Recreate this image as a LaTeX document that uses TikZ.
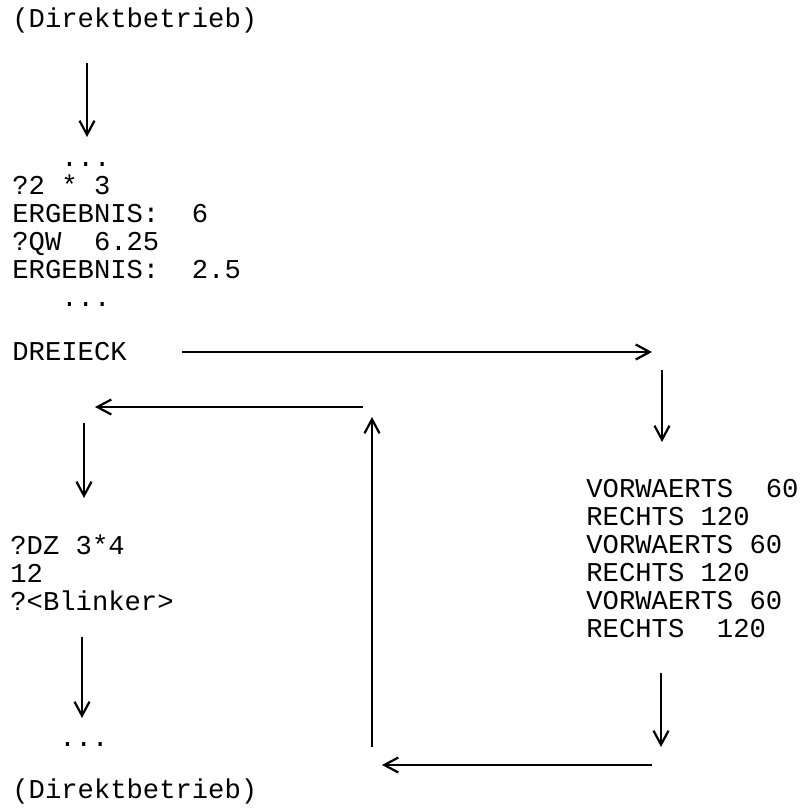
\documentclass[tikz,border=0pt]{standalone}
\usepackage{fontspec}
\setmonofont{Liberation Mono}
\usetikzlibrary{arrows.meta}

\begin{document}
\begin{tikzpicture}[x=0.5pt, y=-0.5pt,
    txt/.style={anchor=base west, inner sep=0pt, align=left,
        font=\ttfamily\fontsize{13.6}{14}\selectfont},
    pfeil/.style={-{Straight Barb[length=7pt,width=7.5pt]}, line width=1.1pt}]

\useasboundingbox (0,0) rectangle (806,809);

% Texte (Anker an der letzten Zeile)
\node[txt] (start) at (12,27) {(Direktbetrieb)};
\node[txt] (rechnen) at (12,306) {~~~...\\?2 * 3\\ERGEBNIS:~~6\\?QW~~6.25\\ERGEBNIS:~~2.5\\~~~...};
\node[txt] (dreieck) at (12,360) {DREIECK};
\node[txt] (prozedur) at (586,637) {VORWAERTS~~60\\RECHTS 120\\VORWAERTS 60\\RECHTS 120\\VORWAERTS 60\\RECHTS~~120};
\node[txt] (dz) at (10,610) {?DZ 3*4\\12\\?<Blinker>};
\node[txt] (punkte) at (10,746) {~~~...};
\node[txt] (ende) at (12,798) {(Direktbetrieb)};

% Endpunkte
\coordinate (a1) at (87,63);   \coordinate (b1) at (87,137);
\coordinate (a2) at (182,352); \coordinate (b2) at (652,352);
\coordinate (a3) at (662,370); \coordinate (b3) at (662,442);
\coordinate (a4) at (363,407); \coordinate (b4) at (95,407);
\coordinate (a5) at (84,423);  \coordinate (b5) at (84,498);
\coordinate (a6) at (372,747); \coordinate (b6) at (372,417);
\coordinate (a7) at (82,637);  \coordinate (b7) at (82,718);
\coordinate (a8) at (661,673); \coordinate (b8) at (661,747);
\coordinate (a9) at (652,765); \coordinate (b9) at (382,765);

% Pfeile
\foreach \i in {1,...,9} {
    \draw[pfeil] (a\i) -- (b\i);
}

\end{tikzpicture}
\end{document}
